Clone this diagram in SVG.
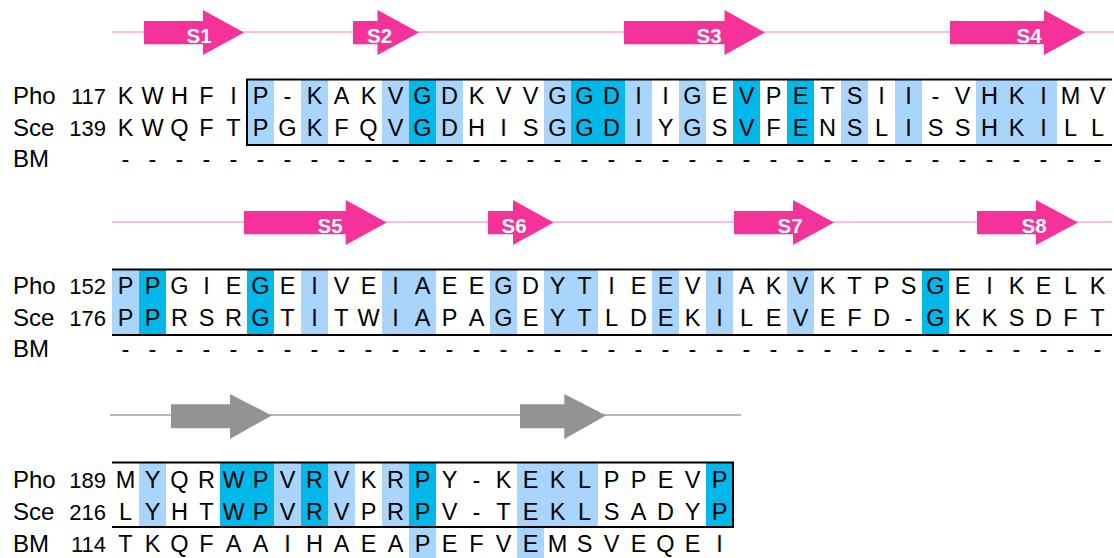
<svg xmlns="http://www.w3.org/2000/svg" width="1114" height="558" viewBox="0 0 1114 558">
<style>
.lab{font-family:"Liberation Sans",Arial,Helvetica,sans-serif;font-size:24px;fill:#000}
.num{font-family:"Liberation Sans",Arial,Helvetica,sans-serif;font-size:22px;fill:#000;text-anchor:end}
.res{font-family:"Liberation Sans",Arial,Helvetica,sans-serif;font-size:23.5px;fill:#000;text-anchor:middle}
.lt{fill:#a9d5fd}
.dk{fill:#00b8ea}
.box{stroke:#000;stroke-width:2;fill:none}
.sl{stroke:#f8a8d0;stroke-width:1.6;fill:none}
.gl{stroke:#a0a0a0;stroke-width:1.6;fill:none}
.sa{fill:#f5329a}
.ga{fill:#939393}
.sn{font-family:"Liberation Sans",Arial,Helvetica,sans-serif;font-size:20.5px;font-weight:bold;fill:#fff;text-anchor:middle}
</style>

<g id="ss1">
<line class="sl" x1="112" y1="32" x2="1114" y2="32"/>
<polygon class="sa" points="144,21 203,21 203,10 244,32.5 203,55 203,44.3 144,44.3"/>
<polygon class="sa" points="353,21 377.5,21 377.5,10 419,32.5 377.5,55 377.5,44.3 353,44.3"/>
<polygon class="sa" points="624,21 724.5,21 724.5,10 765,32.5 724.5,55 724.5,44.3 624,44.3"/>
<polygon class="sa" points="950,21 1044,21 1044,10 1085,32.5 1044,55 1044,44.3 950,44.3"/>
<text class="sn" x="199" y="43">S1</text>
<text class="sn" x="379.5" y="43">S2</text>
<text class="sn" x="709" y="43">S3</text>
<text class="sn" x="1029" y="43">S4</text>
</g>

<g id="block1">
<rect class="lt" x="247" y="79.5" width="27" height="65.5"/>
<rect class="lt" x="301" y="79.5" width="27" height="65.5"/>
<rect class="lt" x="382" y="79.5" width="27" height="65.5"/>
<rect class="lt" x="436" y="79.5" width="27" height="65.5"/>
<rect class="lt" x="544" y="79.5" width="27" height="65.5"/>
<rect class="lt" x="625" y="79.5" width="27" height="65.5"/>
<rect class="lt" x="679" y="79.5" width="27" height="65.5"/>
<rect class="lt" x="841" y="79.5" width="27" height="65.5"/>
<rect class="lt" x="895" y="79.5" width="27" height="65.5"/>
<rect class="lt" x="976" y="79.5" width="81" height="65.5"/>
<rect class="dk" x="409" y="79.5" width="27" height="65.5"/>
<rect class="dk" x="571" y="79.5" width="54" height="65.5"/>
<rect class="dk" x="733" y="79.5" width="27" height="65.5"/>
<rect class="dk" x="787" y="79.5" width="27" height="65.5"/>
<path class="box" d="M1112,79.5 H247 V145 H1112"/>
<text class="lab" x="13" y="104">Pho</text>
<text class="lab" x="13" y="136">Sce</text>
<text class="lab" x="13" y="167">BM</text>
<text class="num" x="106" y="104">117</text>
<text class="num" x="106" y="136">139</text>
<text class="res" y="104" x="125.5 152.5 179.5 206.5 233.5 260.5 287.5 314.5 341.5 368.5 395.5 422.5 449.5 476.5 503.5 530.5 557.5 584.5 611.5 638.5 665.5 692.5 719.5 746.5 773.5 800.5 827.5 854.5 881.5 908.5 935.5 962.5 989.5 1016.5 1043.5 1070.5 1097.5">KWHFIP-KAKVGDKVVGGDIIGEVPETSII-VHKIMV</text>
<text class="res" y="136" x="125.5 152.5 179.5 206.5 233.5 260.5 287.5 314.5 341.5 368.5 395.5 422.5 449.5 476.5 503.5 530.5 557.5 584.5 611.5 638.5 665.5 692.5 719.5 746.5 773.5 800.5 827.5 854.5 881.5 908.5 935.5 962.5 989.5 1016.5 1043.5 1070.5 1097.5">KWQFTPGKFQVGDHISGGDIYGSVFENSLISSHKILL</text>
<text class="res" y="167" x="125.5 152.5 179.5 206.5 233.5 260.5 287.5 314.5 341.5 368.5 395.5 422.5 449.5 476.5 503.5 530.5 557.5 584.5 611.5 638.5 665.5 692.5 719.5 746.5 773.5 800.5 827.5 854.5 881.5 908.5 935.5 962.5 989.5 1016.5 1043.5 1070.5 1097.5">-------------------------------------</text>
</g>

<g id="ss2">
<line class="sl" x1="112" y1="222" x2="1112" y2="222"/>
<polygon class="sa" points="244,211 345.7,211 345.7,200 386.7,222.5 345.7,245 345.7,234.3 244,234.3"/>
<polygon class="sa" points="488,211 513,211 513,200 553.6,222.5 513,245 513,234.3 488,234.3"/>
<polygon class="sa" points="734,211 793,211 793,200 834,222.5 793,245 793,234.3 734,234.3"/>
<polygon class="sa" points="977,211 1036,211 1036,200 1078,222.5 1036,245 1036,234.3 977,234.3"/>
<text class="sn" x="330" y="233">S5</text>
<text class="sn" x="514" y="233">S6</text>
<text class="sn" x="790" y="233">S7</text>
<text class="sn" x="1034" y="233">S8</text>
</g>

<g id="block2">
<rect class="lt" x="112" y="269.5" width="27" height="65.5"/>
<rect class="lt" x="301" y="269.5" width="27" height="65.5"/>
<rect class="lt" x="382" y="269.5" width="54" height="65.5"/>
<rect class="lt" x="490" y="269.5" width="27" height="65.5"/>
<rect class="lt" x="544" y="269.5" width="54" height="65.5"/>
<rect class="lt" x="652" y="269.5" width="27" height="65.5"/>
<rect class="lt" x="706" y="269.5" width="27" height="65.5"/>
<rect class="lt" x="787" y="269.5" width="27" height="65.5"/>
<rect class="dk" x="139" y="269.5" width="27" height="65.5"/>
<rect class="dk" x="247" y="269.5" width="27" height="65.5"/>
<rect class="dk" x="922" y="269.5" width="27" height="65.5"/>
<path class="box" d="M112,269.5 H1112 M112,335 H1112"/>
<text class="lab" x="13" y="294">Pho</text>
<text class="lab" x="13" y="326">Sce</text>
<text class="lab" x="13" y="357">BM</text>
<text class="num" x="106" y="294">152</text>
<text class="num" x="106" y="326">176</text>
<text class="res" y="294" x="125.5 152.5 179.5 206.5 233.5 260.5 287.5 314.5 341.5 368.5 395.5 422.5 449.5 476.5 503.5 530.5 557.5 584.5 611.5 638.5 665.5 692.5 719.5 746.5 773.5 800.5 827.5 854.5 881.5 908.5 935.5 962.5 989.5 1016.5 1043.5 1070.5 1097.5">PPGIEGEIVEIAEEGDYTIEEVIAKVKTPSGEIKELK</text>
<text class="res" y="326" x="125.5 152.5 179.5 206.5 233.5 260.5 287.5 314.5 341.5 368.5 395.5 422.5 449.5 476.5 503.5 530.5 557.5 584.5 611.5 638.5 665.5 692.5 719.5 746.5 773.5 800.5 827.5 854.5 881.5 908.5 935.5 962.5 989.5 1016.5 1043.5 1070.5 1097.5">PPRSRGTITWIAPAGEYTLDEKILEVEFD-GKKSDFT</text>
<text class="res" y="357" x="125.5 152.5 179.5 206.5 233.5 260.5 287.5 314.5 341.5 368.5 395.5 422.5 449.5 476.5 503.5 530.5 557.5 584.5 611.5 638.5 665.5 692.5 719.5 746.5 773.5 800.5 827.5 854.5 881.5 908.5 935.5 962.5 989.5 1016.5 1043.5 1070.5 1097.5">-------------------------------------</text>
</g>

<g id="ss3">
<line class="gl" x1="110" y1="415" x2="741" y2="415"/>
<polygon class="ga" points="171,404.3 230,404.3 230,394 271.7,415.5 230,439 230,428.3 171,428.3"/>
<polygon class="ga" points="520,404.3 564.3,404.3 564.3,394 606,415.5 564.3,439 564.3,428.3 520,428.3"/>
</g>

<g id="block3">
<rect class="lt" x="139" y="462.5" width="27" height="64.5"/>
<rect class="lt" x="274" y="462.5" width="27" height="64.5"/>
<rect class="lt" x="328" y="462.5" width="27" height="64.5"/>
<rect class="lt" x="382" y="462.5" width="27" height="64.5"/>
<rect class="lt" x="517" y="462.5" width="81" height="64.5"/>
<rect class="dk" x="220" y="462.5" width="54" height="64.5"/>
<rect class="dk" x="301" y="462.5" width="27" height="64.5"/>
<rect class="dk" x="409" y="462.5" width="27" height="64.5"/>
<rect class="dk" x="706" y="462.5" width="27" height="64.5"/>
<rect class="lt" x="409" y="527" width="27" height="31"/>
<rect class="lt" x="517" y="527" width="27" height="31"/>
<path class="box" d="M112,462.5 H733 V527 H112"/>
<text class="lab" x="13" y="488">Pho</text>
<text class="lab" x="13" y="520">Sce</text>
<text class="lab" x="13" y="551.5">BM</text>
<text class="num" x="106" y="488">189</text>
<text class="num" x="106" y="520">216</text>
<text class="num" x="106" y="551.5">114</text>
<text class="res" y="488" x="125.5 152.5 179.5 206.5 233.5 260.5 287.5 314.5 341.5 368.5 395.5 422.5 449.5 476.5 503.5 530.5 557.5 584.5 611.5 638.5 665.5 692.5 719.5">MYQRWPVRVKRPY-KEKLPPEVP</text>
<text class="res" y="520" x="125.5 152.5 179.5 206.5 233.5 260.5 287.5 314.5 341.5 368.5 395.5 422.5 449.5 476.5 503.5 530.5 557.5 584.5 611.5 638.5 665.5 692.5 719.5">LYHTWPVRVPRPV-TEKLSADYP</text>
<text class="res" y="551.5" x="125.5 152.5 179.5 206.5 233.5 260.5 287.5 314.5 341.5 368.5 395.5 422.5 449.5 476.5 503.5 530.5 557.5 584.5 611.5 638.5 665.5 692.5 719.5">TKQFAAIHAEAPEFVEMSVEQEI</text>
</g>
</svg>
